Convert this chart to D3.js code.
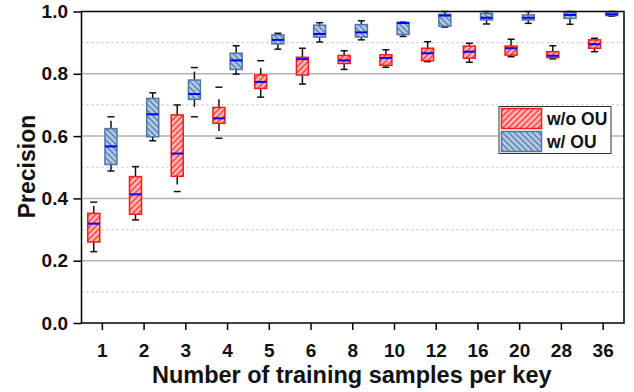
<!doctype html>
<html lang="en">
    <head>
        <meta charset="utf-8">
        <title>Precision vs training samples</title>
        <style type="text/css">
        body {
          margin: 0;
          background: #fff;
        }
        svg {
          display: block;
          font-family: "Liberation Sans", Arial, sans-serif;
          font-weight: bold;
        }
        .tick line {
          stroke: #000;
          stroke-width: 1.5px;
        }
        .tick text {
          font-size: 19px;
          fill: #111;
        }
        </style>
    </head>
    <body>
        <div id="root"></div>

        <script src="https://d3js.org/d3.v7.min.js"></script>
        <script>

        // number of training samples per key
        var categories = ["1", "2", "3", "4", "5", "6", "8", "10", "12", "16", "20", "28", "36"];
        var yTicks = [0, 0.2, 0.4, 0.6, 0.8, 1.0];
        var yMinorTicks = [0.1, 0.3, 0.5, 0.7, 0.9];

        // w/o OU
        var woQ1     = [0.260, 0.349, 0.471, 0.641, 0.753, 0.796, 0.833, 0.827, 0.842, 0.850, 0.860, 0.852, 0.882];
        var woMedian = [0.319, 0.413, 0.544, 0.657, 0.774, 0.847, 0.843, 0.851, 0.866, 0.871, 0.882, 0.858, 0.895];
        var woQ3     = [0.352, 0.470, 0.668, 0.692, 0.796, 0.853, 0.859, 0.861, 0.882, 0.889, 0.889, 0.871, 0.909];
        var woLow    = [0.229, 0.331, 0.445, 0.616, 0.725, 0.767, 0.814, 0.821, 0.839, 0.837, 0.855, 0.848, 0.871];
        var woHigh   = [0.376, 0.502, 0.700, 0.718, 0.818, 0.882, 0.874, 0.877, 0.903, 0.898, 0.911, 0.890, 0.914];
        var woMin    = [0.229, 0.331, 0.422, 0.593, 0.725, 0.767, 0.814, 0.821, 0.839, 0.837, 0.855, 0.848, 0.871];
        var woMax    = [0.388, 0.502, 0.700, 0.757, 0.842, 0.882, 0.874, 0.877, 0.903, 0.898, 0.911, 0.890, 0.914];

        // w/ OU
        var wQ1     = [0.509, 0.598, 0.718, 0.814, 0.896, 0.918, 0.918, 0.926, 0.953, 0.973, 0.973, 0.978, 0.987];
        var wMedian = [0.567, 0.670, 0.735, 0.843, 0.909, 0.928, 0.933, 0.963, 0.987, 0.980, 0.980, 0.989, 0.991];
        var wQ3     = [0.624, 0.721, 0.780, 0.866, 0.925, 0.956, 0.958, 0.965, 0.991, 0.994, 0.989, 0.997, 0.999];
        var wLow    = [0.488, 0.585, 0.694, 0.799, 0.879, 0.902, 0.909, 0.920, 0.950, 0.960, 0.962, 0.959, 0.985];
        var wHigh   = [0.649, 0.739, 0.807, 0.890, 0.930, 0.964, 0.970, 0.966, 1.000, 1.000, 1.000, 1.000, 1.000];
        var wMin    = [0.488, 0.585, 0.662, 0.799, 0.879, 0.902, 0.909, 0.920, 0.950, 0.960, 0.962, 0.959, 0.985];
        var wMax    = [0.662, 0.739, 0.820, 0.890, 0.930, 0.964, 0.970, 0.966, 1.000, 1.000, 1.000, 1.000, 1.000];

        var width = 634,
            height = 392,
            plotLeft = 81.5,
            plotRight = 624,
            plotTop = 11.5,
            plotBottom = 323;

        var series = [
          {name: "w/o OU", offset: -8.6, pattern: "hatchRed", stroke: "#ff1a1a",
           q1: woQ1, median: woMedian, q3: woQ3, low: woLow, high: woHigh, min: woMin, max: woMax},
          {name: "w/ OU", offset: 8.6, pattern: "hatchBlue", stroke: "#4a76a8",
           q1: wQ1, median: wMedian, q3: wQ3, low: wLow, high: wHigh, min: wMin, max: wMax}
        ];

        var x = d3.scaleBand()
            .domain(categories)
            .range([plotLeft, plotRight]);

        var y = d3.scaleLinear()
            .domain([0, 1])
            .range([plotBottom, plotTop]);

        var svg = d3.select("#root").append("svg")
            .attr("width", width)
            .attr("height", height);

        // hatch fills
        var defs = svg.append("defs");
        function hatch(id, bg, fg, angle) {
          var p = defs.append("pattern")
              .attr("id", id)
              .attr("patternUnits", "userSpaceOnUse")
              .attr("width", 4.2)
              .attr("height", 4.2)
              .attr("patternTransform", "rotate(" + angle + ")");
          p.append("rect").attr("width", 4.2).attr("height", 4.2).attr("fill", bg);
          p.append("line").attr("x1", 1).attr("x2", 1).attr("y1", 0).attr("y2", 4.2)
              .attr("stroke", fg).attr("stroke-width", 1.7);
        }
        hatch("hatchRed", "#ffbcbc", "#ff4646", 45);
        hatch("hatchBlue", "#bccde3", "#5f86b6", -45);

        // grid
        svg.append("g").selectAll("line")
            .data(yMinorTicks)
            .enter().append("line")
            .attr("x1", plotLeft).attr("x2", plotRight)
            .attr("y1", function(d) { return y(d); })
            .attr("y2", function(d) { return y(d); })
            .attr("stroke", "#c4c4c4")
            .attr("stroke-width", 1.2)
            .attr("stroke-dasharray", "2,3");
        svg.append("g").selectAll("line")
            .data([0.2, 0.4, 0.6, 0.8])
            .enter().append("line")
            .attr("x1", plotLeft).attr("x2", plotRight)
            .attr("y1", function(d) { return y(d); })
            .attr("y2", function(d) { return y(d); })
            .attr("stroke", "#b2b2b2")
            .attr("stroke-width", 1.5);

        // axes
        var yAxis = svg.append("g")
            .attr("transform", "translate(" + plotLeft + ",0)")
            .call(d3.axisLeft(y).tickValues(yTicks).tickFormat(d3.format(".1f"))
                .tickSize(8).tickPadding(5.5).tickSizeOuter(0));
        yAxis.select(".domain").remove();

        var xAxis = svg.append("g")
            .attr("transform", "translate(0," + plotBottom + ")")
            .call(d3.axisBottom(x).tickSize(7).tickPadding(14).tickSizeOuter(0));
        xAxis.select(".domain").remove();

        // boxes
        var boxW = 12, capW = 7;
        series.forEach(function(s) {
          var g = svg.append("g");
          var rows = categories.map(function(c, i) {
            return {c: c, q1: s.q1[i], median: s.median[i], q3: s.q3[i],
                    low: s.low[i], high: s.high[i], min: s.min[i], max: s.max[i]};
          });
          var cx = function(d) { return x(d.c) + x.bandwidth() / 2 + s.offset; };

          var item = g.selectAll("g").data(rows).enter().append("g");

          item.append("line")
              .attr("x1", cx).attr("x2", cx)
              .attr("y1", function(d) { return y(d.high); })
              .attr("y2", function(d) { return y(d.q3); })
              .attr("stroke", "#111").attr("stroke-width", 1.5);
          item.append("line")
              .attr("x1", cx).attr("x2", cx)
              .attr("y1", function(d) { return y(d.q1); })
              .attr("y2", function(d) { return y(d.low); })
              .attr("stroke", "#111").attr("stroke-width", 1.5);
          ["min", "max"].forEach(function(k) {
            item.append("line")
                .attr("x1", function(d) { return cx(d) - capW / 2; })
                .attr("x2", function(d) { return cx(d) + capW / 2; })
                .attr("y1", function(d) { return y(d[k]); })
                .attr("y2", function(d) { return y(d[k]); })
                .attr("stroke", "#111").attr("stroke-width", 1.5);
          });

          item.append("rect")
              .attr("x", function(d) { return cx(d) - boxW / 2; })
              .attr("y", function(d) { return y(d.q3); })
              .attr("width", boxW)
              .attr("height", function(d) { return Math.max(1, y(d.q1) - y(d.q3)); })
              .attr("fill", "url(#" + s.pattern + ")")
              .attr("stroke", s.stroke)
              .attr("stroke-width", 1.5);

          item.append("line")
              .attr("x1", function(d) { return cx(d) - boxW / 2; })
              .attr("x2", function(d) { return cx(d) + boxW / 2; })
              .attr("y1", function(d) { return y(d.median); })
              .attr("y2", function(d) { return y(d.median); })
              .attr("stroke", "#0000ff")
              .attr("stroke-width", 2);
        });

        // frame
        svg.append("rect")
            .attr("x", plotLeft).attr("y", plotTop)
            .attr("width", plotRight - plotLeft).attr("height", plotBottom - plotTop)
            .attr("fill", "none")
            .attr("stroke", "#000")
            .attr("stroke-width", 1.5);

        // legend
        var legend = svg.append("g").attr("transform", "translate(499,106.5)");
        legend.append("rect")
            .attr("width", 112).attr("height", 47)
            .attr("fill", "#fff")
            .attr("stroke", "#333")
            .attr("stroke-width", 1);
        series.forEach(function(s, i) {
          legend.append("rect")
              .attr("x", 2.5).attr("y", 2 + i * 23)
              .attr("width", 40).attr("height", 20)
              .attr("fill", "url(#" + s.pattern + ")")
              .attr("stroke", s.stroke)
              .attr("stroke-width", 1.5);
          legend.append("text")
              .attr("x", 48).attr("y", 18 + i * 23.5)
              .attr("font-size", 17.5)
              .attr("fill", "#111")
              .text(s.name);
        });

        // titles
        svg.append("text")
            .attr("x", (plotLeft + plotRight) / 2 - 1)
            .attr("y", 383)
            .attr("text-anchor", "middle")
            .attr("font-size", 23.5)
            .attr("fill", "#111")
            .text("Number of training samples per key");

        svg.append("text")
            .attr("transform", "translate(35,166.5) rotate(-90)")
            .attr("text-anchor", "middle")
            .attr("font-size", 23)
            .attr("fill", "#111")
            .text("Precision");

        </script>
    </body>
</html>
